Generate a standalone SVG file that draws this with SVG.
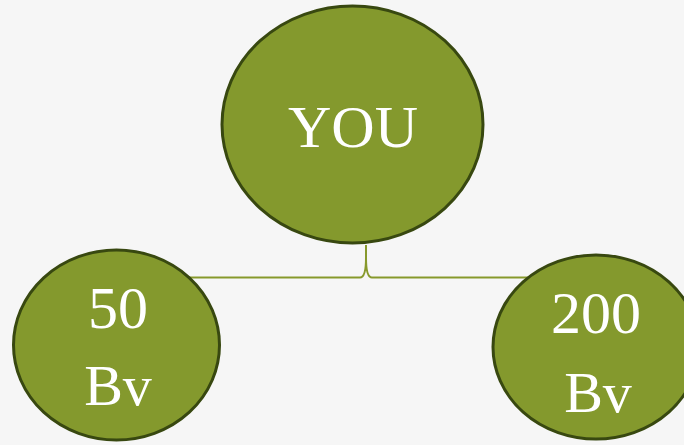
<svg xmlns="http://www.w3.org/2000/svg" width="684" height="445" viewBox="0 0 684 445">
<style>
.node{fill:#84992d;stroke:#384810;stroke-width:3}
.lbl{font-family:"Liberation Serif","Times New Roman",serif;fill:#ffffff;text-anchor:middle}
.conn{fill:none;stroke:#87992c;stroke-width:2}
</style>
<rect width="684" height="445" fill="#f6f6f6"/>
<g id="connectors">
<path class="conn" d="M187,277.5 H360 Q366,277.5 366,258 V245"/>
<path class="conn" d="M366,258 Q366,277.5 372,277.5 H533"/>
</g>
<g id="you">
<ellipse class="node" cx="352.5" cy="124.5" rx="130.5" ry="118.5"/>
<text class="lbl" x="353" y="147" font-size="60">YOU</text>
</g>
<g id="n50">
<ellipse class="node" cx="116.5" cy="345" rx="103" ry="95"/>
<text class="lbl" x="118" y="328" font-size="60">50</text>
<text class="lbl" x="118" y="405" font-size="58">Bv</text>
</g>
<g id="n200">
<ellipse class="node" cx="596" cy="347" rx="103" ry="92"/>
<text class="lbl" x="596" y="333" font-size="60">200</text>
<text class="lbl" x="598" y="412" font-size="58">Bv</text>
</g>
</svg>
